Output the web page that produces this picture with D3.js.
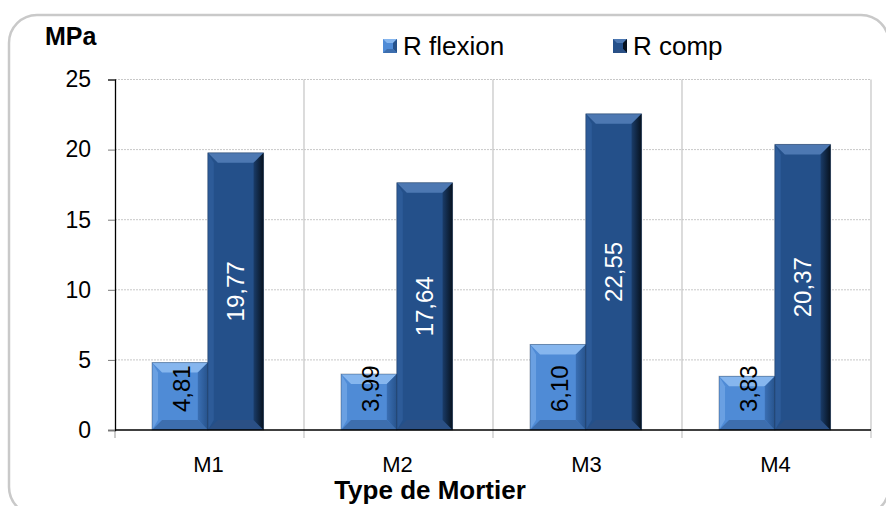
<!DOCTYPE html>
<html><head><meta charset="utf-8">
<script src="https://cdn.jsdelivr.net/npm/d3@7"></script>
<style>body{margin:0;background:#fff}svg{display:block;font-family:Arial,"Liberation Sans",sans-serif}</style>
</head><body><svg id="c" width="886" height="506"></svg>
<script>
const categories = ["M1","M2","M3","M4"];
const seriesNames = ["R flexion","R comp"];
const flexion = [4.81,3.99,6.10,3.83];
const comp = [19.77,17.64,22.55,20.37];
const labelsFlexion = ["4,81","3,99","6,10","3,83"];
const labelsComp = ["19,77","17,64","22,55","20,37"];
const yTicks = [0,5,10,15,20,25];

const FF = "Arial,'Liberation Sans',sans-serif";
const svg = d3.select("#c");
const L=115,R=871,T=79.5,B=430;
// frame
svg.append("rect").attr("x",9).attr("y",15).attr("width",880).attr("height",500).attr("rx",28)
  .attr("fill","#fff").attr("stroke","#c9c9c9").attr("stroke-width",2.5);

const y = d3.scaleLinear().domain([0,25]).range([B,T]);
const x0 = d3.scaleBand().domain(categories).range([L,R]).padding(0);
const bw = x0.bandwidth();
const x1 = d3.scaleBand().domain(seriesNames).range([bw*0.196, bw*0.786]).padding(0);

const defs = svg.append("defs");
function grad(id, stops, horiz){
  const g = defs.append("linearGradient").attr("id",id).attr("x1",0).attr("y1",0).attr("x2",horiz?1:0).attr("y2",horiz?0:1);
  stops.forEach(s=>g.append("stop").attr("offset",s[0]).attr("stop-color",s[1]));
}
const styles = {
  "R flexion":{face:"#4f8bd6",top:"#86b6ee",left:"#6aa0e2",right:["#3a6fb4","#27538c"],bottom:"#3d6eae",label:"#000"},
  "R comp":{face:"#24508a",top:"#4d78b2",left:"#2d5b98",right:["#1a3c69","#07121f"],bottom:"#2b5085",label:"#fff"}
};
Object.entries(styles).forEach(([k,s],i)=>{grad("rg"+i,[[0,s.right[0]],[1,s.right[1]]],true);});

// grid
const g = svg.append("g");
g.selectAll(".hg").data(yTicks.filter(d=>d>0)).join("line")
  .attr("x1",L).attr("x2",R).attr("y1",d=>y(d)).attr("y2",d=>y(d))
  .attr("stroke","#c8c8c8").attr("stroke-width",1).attr("stroke-dasharray","2,1");
const bounds = categories.map(c=>x0(c)+bw);
g.selectAll(".vg").data(bounds).join("line")
  .attr("x1",d=>d).attr("x2",d=>d).attr("y1",T).attr("y2",B+8)
  .attr("stroke","#c4c4c4").attr("stroke-width",1.2);
g.append("line").attr("x1",L).attr("x2",L).attr("y1",B).attr("y2",B+8).attr("stroke","#999");
// y axis
const ya = svg.append("g").attr("transform",`translate(${L},0)`)
  .call(d3.axisLeft(y).tickValues(yTicks).tickSize(7).tickPadding(17));
ya.select(".domain").attr("stroke","#000").attr("stroke-width",1.3);
ya.selectAll(".tick line").attr("stroke","#777");
ya.selectAll("text").attr("font-size",23).attr("fill","#000").attr("font-family",FF);
// bars
const bars = svg.append("g");
categories.forEach((c,i)=>{
  [[seriesNames[0],flexion[i],labelsFlexion[i]],[seriesNames[1],comp[i],labelsComp[i]]].forEach(([s,v,lab],si)=>{
    const st = styles[s];
    const xa = x0(c)+x1(s), w = x1.bandwidth(), ytop=y(v), h=B-ytop;
    const b = Math.min(10,h/3);
    const gg = bars.append("g");
    gg.append("rect").attr("x",xa).attr("y",ytop).attr("width",w).attr("height",h).attr("fill",st.face);
    const xb=xa+w;
    gg.append("polygon").attr("points",`${xa},${ytop} ${xb},${ytop} ${xb-b},${ytop+b} ${xa+b},${ytop+b}`).attr("fill",st.top);
    gg.append("polygon").attr("points",`${xa},${B} ${xb},${B} ${xb-b},${B-b} ${xa+b},${B-b}`).attr("fill",st.bottom);
    gg.append("polygon").attr("points",`${xa},${ytop} ${xa+b*0.6},${ytop+b} ${xa+b*0.6},${B-b} ${xa},${B}`).attr("fill",st.left);
    gg.append("polygon").attr("points",`${xb},${ytop} ${xb-b},${ytop+b} ${xb-b},${B-b} ${xb},${B}`).attr("fill",`url(#rg${si})`);
    gg.append("rect").attr("x",xa).attr("y",ytop).attr("width",w).attr("height",h).attr("fill","none").attr("stroke","#10243f").attr("stroke-opacity",0.35).attr("stroke-width",1);
    const cx = xa+w/2 + (si===0?2:0);
    const cy = si===0 ? B-18 : (ytop+B)/2;
    svg.append("text").attr("transform",`translate(${cx},${cy}) rotate(-90)`)
      .attr("text-anchor",si===0?"start":"middle").attr("dominant-baseline","central")
      .attr("font-size",24).attr("fill",st.label).text(lab);
  });
});
// x axis line
svg.append("line").attr("x1",L).attr("x2",R).attr("y1",B).attr("y2",B).attr("stroke","#000").attr("stroke-width",1.3);
// category labels
svg.selectAll(".cl").data(categories).join("text")
  .attr("x",d=>x0(d)+bw/2-1).attr("y",472).attr("text-anchor","middle").attr("font-size",22).text(d=>d);
svg.append("text").attr("x",430).attr("y",499).attr("text-anchor","middle").attr("font-size",26).attr("font-weight","bold").text("Type de Mortier");
svg.append("text").attr("x",45).attr("y",45).attr("font-size",25).attr("font-weight","bold").text("MPa");
// legend
const legX = [383,613];
seriesNames.forEach((s,i)=>{
  const st=styles[s], lx=legX[i], ly=39, sz=14, b=4;
  const lg=svg.append("g");
  lg.append("rect").attr("x",lx).attr("y",ly).attr("width",sz).attr("height",sz).attr("fill",st.face);
  lg.append("polygon").attr("points",`${lx},${ly} ${lx+sz},${ly} ${lx+sz-b},${ly+b} ${lx+b},${ly+b}`).attr("fill",st.top);
  lg.append("polygon").attr("points",`${lx+sz},${ly} ${lx+sz-b},${ly+b} ${lx+sz-b},${ly+sz-b} ${lx+sz},${ly+sz}`).attr("fill",st.right[1]);
  lg.append("polygon").attr("points",`${lx},${ly+sz} ${lx+sz},${ly+sz} ${lx+sz-b},${ly+sz-b} ${lx+b},${ly+sz-b}`).attr("fill",st.bottom);
  svg.append("text").attr("x",lx+sz+6).attr("y",55).attr("font-size",26).text(s);
});
</script></body></html>
